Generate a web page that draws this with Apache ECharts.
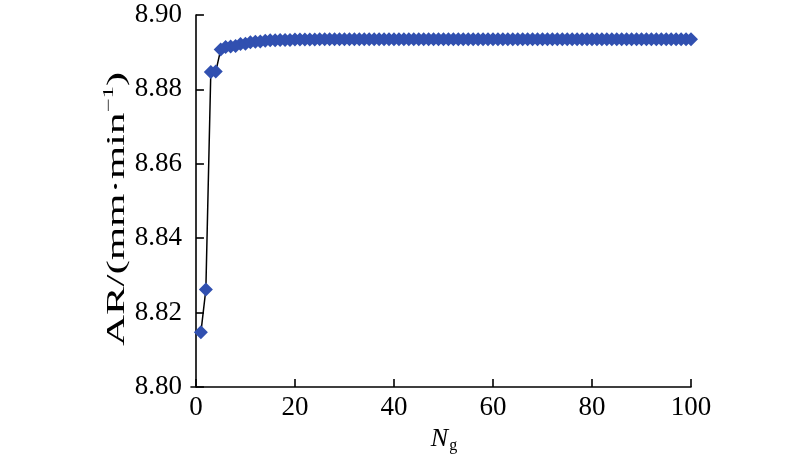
<!DOCTYPE html>
<html>
<head>
<meta charset="utf-8">
<script src="https://cdn.jsdelivr.net/npm/echarts@6/dist/echarts.min.js"></script>
<style>html,body{margin:0;padding:0;background:#fff;}#c{width:800px;height:462px;}</style>
</head>
<body>
<div id="c"></div>
<script>
const generations = Array.from({length: 100}, (_, i) => i + 1);
const arValues = [
  8.8147, 8.8262, 8.8847, 8.8848, 8.8907, 8.8914, 8.8915, 8.8917, 8.8922, 8.8923,
  8.8927, 8.8928, 8.8929, 8.8931, 8.8932, 8.8932, 8.8933, 8.8933, 8.8933, 8.8934,
  8.8934, 8.8934, 8.8934, 8.8934, 8.8935, 8.8935, 8.8935, 8.8935, 8.8935, 8.8935,
  8.8935, 8.8935, 8.8935, 8.8935, 8.8935, 8.8935, 8.8935, 8.8935, 8.8935, 8.8935,
  8.8935, 8.8935, 8.8935, 8.8935, 8.8935, 8.8935, 8.8935, 8.8935, 8.8935, 8.8935,
  8.8935, 8.8935, 8.8935, 8.8935, 8.8935, 8.8935, 8.8935, 8.8935, 8.8935, 8.8935,
  8.8935, 8.8935, 8.8935, 8.8935, 8.8935, 8.8935, 8.8935, 8.8935, 8.8935, 8.8935,
  8.8935, 8.8935, 8.8935, 8.8935, 8.8935, 8.8935, 8.8935, 8.8935, 8.8935, 8.8935,
  8.8935, 8.8935, 8.8935, 8.8935, 8.8935, 8.8935, 8.8935, 8.8935, 8.8935, 8.8935,
  8.8935, 8.8935, 8.8935, 8.8935, 8.8935, 8.8935, 8.8935, 8.8935, 8.8935, 8.8935
];
const xTicks = [0, 20, 40, 60, 80, 100];
const yAxisTitle = 'AR/(mm·min';
const yAxisTitleExp = '−1';

const font = '"Liberation Serif", "Times New Roman", serif';
const chart = echarts.init(document.getElementById('c'), null, {renderer: 'canvas'});
chart.setOption({
  animation: false,
  grid: {left: 191, right: 109, top: 15, bottom: 75, containLabel: false, outerBoundsMode: 'none'},
  xAxis: {
    type: 'value', min: -1, max: 100,
    name: '{i|N}{s|g}',
    nameLocation: 'middle', nameGap: 36,
    nameTextStyle: {
      padding: [0, 0, 0, 6],
      rich: {
        i: {fontFamily: font, fontStyle: 'italic', fontSize: 26, color: '#000', lineHeight: 30, verticalAlign: 'middle'},
        s: {fontFamily: font, fontSize: 16, color: '#000', verticalAlign: 'bottom', lineHeight: 16, padding: [0, 0, 0, 1]}
      }
    },
    axisLine: {lineStyle: {color: '#000', width: 1.6}},
    axisTick: {inside: true, length: 8, lineStyle: {color: '#000', width: 1.6}, customValues: xTicks},
    axisLabel: {fontFamily: font, fontSize: 27, color: '#000', margin: 7, customValues: xTicks},
    splitLine: {show: false}
  },
  yAxis: {
    type: 'value', min: 8.80, max: 8.90, interval: 0.02,
    axisLine: {show: true, lineStyle: {color: '#000', width: 1.6}},
    axisTick: {show: true, inside: true, length: 8, lineStyle: {color: '#000', width: 1.6}},
    axisLabel: {fontFamily: font, fontSize: 27, color: '#000', margin: 9,
      formatter: v => v.toFixed(2)},
    splitLine: {show: false}
  },
  graphic: [{
    type: 'text',
    x: 117, y: 209,
    rotation: Math.PI / 2,
    scaleX: 1.65,
    style: {
      text: '{a|' + yAxisTitle + '}{s|' + yAxisTitleExp + '}{a|)}',
      align: 'center', verticalAlign: 'middle',
      rich: {
        a: {fontFamily: font, fontSize: 26, fill: '#000', lineHeight: 30, verticalAlign: 'middle'},
        s: {fontFamily: font, fontSize: 15, fill: '#000', lineHeight: 16, verticalAlign: 'top'}
      }
    }
  }],
  series: [{
    type: 'line',
    data: generations.map((g, i) => [g, arValues[i]]),
    symbol: 'diamond', symbolSize: 14,
    lineStyle: {color: '#000', width: 1.5},
    itemStyle: {color: '#3150b0'}
  }]
});
</script>
</body>
</html>
